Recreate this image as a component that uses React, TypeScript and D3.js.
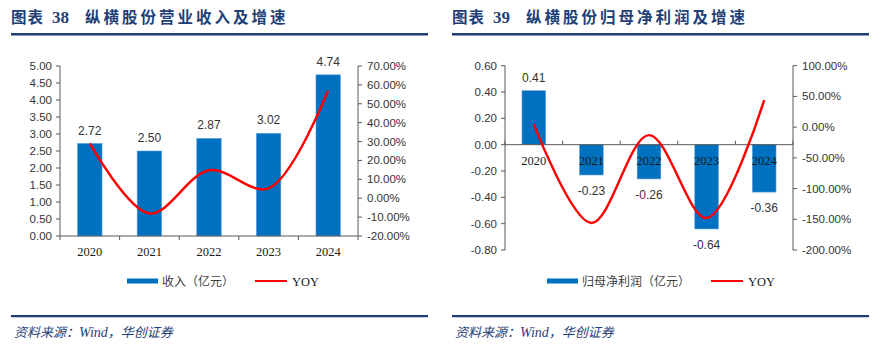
import React from 'react';
import * as d3 from 'd3';

const years = ['2020', '2021', '2022', '2023', '2024'];

// 图表38: 营业收入（亿元）及同比
const revenue = [2.72, 2.5, 2.87, 3.02, 4.74];
const revenueYoy = [29, -8.1, 14.8, 5.2, 57];
const revenueTicks = [0, 0.5, 1, 1.5, 2, 2.5, 3, 3.5, 4, 4.5, 5];
const revenueYoyTicks = [-20, -10, 0, 10, 20, 30, 40, 50, 60, 70];

// 图表39: 归母净利润（亿元）及同比
const netProfit = [0.41, -0.23, -0.26, -0.64, -0.36];
const netProfitYoy = [5, -156, -13, -148, 44];
const profitTicks = [-0.8, -0.6, -0.4, -0.2, 0, 0.2, 0.4, 0.6];
const profitYoyTicks = [-200, -150, -100, -50, 0, 50, 100];

const NAVY = '#1F3F77';
const BLUE = '#0070C0';
const RED = '#FF0000';
const AXIS = '#595959';
const TEXT = '#333333';
const SANS = '"Liberation Sans", Arial, sans-serif';
const SERIF = '"Liberation Serif", "Times New Roman", serif';
const CJK = '"Noto Sans CJK SC", sans-serif';

interface PanelProps {
  left: number;       // panel left edge
  width: number;      // panel width
  num: string;
  title: string;
  legendLabel: string;
  legendX: number;
  plot: { x0: number; x1: number; top: number; bottom: number };
  bars: number[];
  yoy: number[];
  leftTicks: number[];
  rightTicks: number[];
}

const Panel: React.FC<PanelProps> = ({
  left, width, num, title, legendLabel, legendX, plot, bars, yoy, leftTicks, rightTicks,
}) => {
  const x = d3.scaleBand<string>().domain(years).range([plot.x0, plot.x1]).padding(0);
  const step = x.step();
  const barW = step * 0.41;
  const yL = d3
    .scaleLinear()
    .domain([d3.min(leftTicks)!, d3.max(leftTicks)!])
    .range([plot.bottom, plot.top]);
  const yR = d3
    .scaleLinear()
    .domain([d3.min(rightTicks)!, d3.max(rightTicks)!])
    .range([plot.bottom, plot.top]);
  const zeroY = yL(Math.max(0, d3.min(leftTicks)!));
  const hasNeg = d3.min(bars)! < 0;

  const line = d3
    .line<number>()
    .x((_d, i) => x(years[i])! + step / 2)
    .y(d => yR(d))
    .curve(d3.curveCatmullRom.alpha(0.5));

  return (
    <g>
      {/* title */}
      <text x={left + 11} y={23} fontFamily={CJK} fontWeight={700} fontSize={15.5} fill={NAVY}>
        <tspan letterSpacing={1}>图表</tspan>
        <tspan dx={8} fontFamily={SERIF} fontSize={17}>{num}</tspan>
        <tspan dx={16} letterSpacing={3}>{title}</tspan>
      </text>
      <line x1={left + 11} x2={left + width - 17} y1={34.2} y2={34.2} stroke={NAVY} strokeWidth={2.4} />

      {/* bars */}
      {bars.map((v, i) => (
        <rect
          key={years[i]}
          x={x(years[i])! + (step - barW) / 2}
          y={Math.min(yL(v), zeroY)}
          width={barW}
          height={Math.abs(yL(v) - zeroY)}
          fill={BLUE}
          stroke="#5B9BD5"
          strokeWidth={0.6}
        />
      ))}

      {/* left axis */}
      <line x1={plot.x0} x2={plot.x0} y1={plot.top} y2={plot.bottom} stroke={AXIS} strokeWidth={1} />
      {leftTicks.map(t => (
        <g key={'l' + t}>
          <line x1={plot.x0 - 4} x2={plot.x0} y1={yL(t)} y2={yL(t)} stroke={AXIS} />
          <text x={plot.x0 - 8} y={yL(t) + 4} textAnchor="end" fontFamily={SANS} fontSize={11.5} fill={TEXT}>
            {t.toFixed(2)}
          </text>
        </g>
      ))}

      {/* right axis */}
      <line x1={plot.x1} x2={plot.x1} y1={plot.top} y2={plot.bottom} stroke={AXIS} strokeWidth={1} />
      {rightTicks.map(t => (
        <g key={'r' + t}>
          <line x1={plot.x1} x2={plot.x1 + 4} y1={yR(t)} y2={yR(t)} stroke={AXIS} />
          <text x={plot.x1 + 9} y={yR(t) + 4} fontFamily={SANS} fontSize={11.5} fill={TEXT}>
            {t.toFixed(2) + '%'}
          </text>
        </g>
      ))}

      {/* category axis */}
      <line x1={plot.x0} x2={plot.x1} y1={zeroY} y2={zeroY} stroke={AXIS} strokeWidth={1} />
      {d3.range(years.length + 1).map(i => (
        <line
          key={'c' + i}
          x1={plot.x0 + i * step}
          x2={plot.x0 + i * step}
          y1={zeroY}
          y2={hasNeg ? zeroY - 4 : zeroY + 4}
          stroke={AXIS}
        />
      ))}
      {years.map(yr => (
        <text
          key={'x' + yr}
          x={x(yr)! + step / 2}
          y={hasNeg ? zeroY + 20 : zeroY + 20}
          textAnchor="middle"
          fontFamily={SERIF}
          fontSize={12.5}
          fill="#1a1a1a"
        >
          {yr}
        </text>
      ))}

      {/* yoy line */}
      <path d={line(yoy)!} fill="none" stroke={RED} strokeWidth={2.4} />

      {/* data labels */}
      {bars.map((v, i) => (
        <text
          key={'d' + i}
          x={x(years[i])! + step / 2}
          y={v >= 0 ? yL(v) - 9 : yL(v) + 20}
          textAnchor="middle"
          fontFamily={SANS}
          fontSize={12}
          fill={TEXT}
        >
          {v.toFixed(2)}
        </text>
      ))}

      {/* legend */}
      <rect x={legendX} y={278.5} width={31} height={5} fill={BLUE} />
      <text x={legendX + 35} y={285.5} fontFamily={CJK} fontSize={12} fill="#404040">
        {legendLabel}
      </text>
      <line
        x1={legendX + 128 + (legendLabel.length - 6) * 12}
        x2={legendX + 160 + (legendLabel.length - 6) * 12}
        y1={281}
        y2={281}
        stroke={RED}
        strokeWidth={2}
      />
      <text
        x={legendX + 165 + (legendLabel.length - 6) * 12}
        y={285.5}
        fontFamily={SERIF}
        fontSize={12.5}
        fill="#1a1a1a"
      >
        YOY
      </text>

      {/* source */}
      <line x1={left + 11} x2={left + width - 17} y1={316.2} y2={316.2} stroke={NAVY} strokeWidth={2.2} />
      <text x={left + 14} y={337} fontFamily={CJK} fontStyle="italic" fontSize={13} fill={NAVY}>
        资料来源：
        <tspan fontFamily={SERIF} fontSize={14}>Wind</tspan>
        ，华创证券
      </text>
    </g>
  );
};

export default function App() {
  return (
    <svg
      width={890}
      height={350}
      style={{ position: 'absolute', left: 0, top: 0, background: '#fff' }}
    >
      <rect width={890} height={350} fill="#fff" />
      <Panel
        left={0}
        width={445}
        num="38"
        title="纵横股份营业收入及增速"
        legendLabel="收入（亿元）"
        legendX={127}
        plot={{ x0: 60, x1: 358, top: 66, bottom: 236 }}
        bars={revenue}
        yoy={revenueYoy}
        leftTicks={revenueTicks}
        rightTicks={revenueYoyTicks}
      />
      <Panel
        left={441}
        width={445}
        num="39"
        title="纵横股份归母净利润及增速"
        legendLabel="归母净利润（亿元）"
        legendX={547}
        plot={{ x0: 505, x1: 793, top: 65.7, bottom: 250 }}
        bars={netProfit}
        yoy={netProfitYoy}
        leftTicks={profitTicks}
        rightTicks={profitYoyTicks}
      />
    </svg>
  );
}
